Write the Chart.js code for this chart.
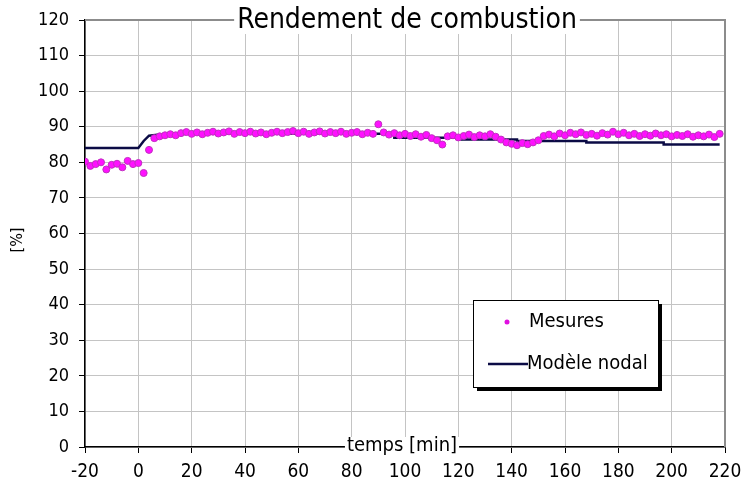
<!DOCTYPE html>
<html>
<head>
<meta charset="utf-8">
<script src="https://cdn.jsdelivr.net/npm/chart.js@4/dist/chart.umd.min.js"></script>
<style>
  html, body { margin: 0; padding: 0; background: #fff; }
</style>
</head>
<body>
<canvas id="myChart" width="742" height="487"></canvas>
<script>
// Data
const measureStart = -20;   // first sample [min]
const measureStep = 2;      // sampling interval [min]
const measureValues = [
  80.2, 79.0, 79.5, 80.0, 78.0, 79.3, 79.6, 78.6, 80.4, 79.5,
  79.8, 77.0, 83.5, 86.8, 87.3, 87.6, 87.9, 87.6, 88.2, 88.5,
  88.0, 88.4, 87.9, 88.3, 88.6, 88.1, 88.4, 88.7, 88.0, 88.5,
  88.2, 88.6, 88.1, 88.4, 87.9, 88.3, 88.6, 88.2, 88.5, 88.8,
  88.2, 88.6, 88.0, 88.4, 88.7, 88.1, 88.5, 88.2, 88.6, 88.0,
  88.3, 88.5, 87.9, 88.3, 88.0, 90.7, 88.4, 87.8, 88.2, 87.6,
  88.0, 87.4, 87.9, 87.2, 87.7, 86.8, 86.2, 85.0, 87.3, 87.6,
  87.0, 87.4, 87.8, 87.1, 87.6, 87.3, 87.9, 87.2, 86.4, 85.6,
  85.2, 84.8, 85.4, 85.1, 85.6, 86.2, 87.4, 87.8, 87.3, 88.1,
  87.6, 88.3, 87.9, 88.4, 87.7, 88.0, 87.5, 88.2, 87.8, 88.6,
  87.9, 88.3, 87.6, 88.0, 87.4, 87.9, 87.5, 88.1, 87.6, 87.9,
  87.3, 87.7, 87.4, 87.9, 87.2, 87.6, 87.3, 87.8, 87.1, 88.0
];
const modelTimes  = [-20, 0, 2, 4, 8, 20, 96, 96, 120, 120, 142, 142, 168, 168, 197, 197, 218];
const modelValues = [84, 84, 86, 87.5, 87.8, 88, 88, 86.9, 86.9, 86.4, 86.4, 86.0, 86.0, 85.6, 85.6, 85.0, 85.0];

const xTicks = [-20, 0, 20, 40, 60, 80, 100, 120, 140, 160, 180, 200, 220];
const yTicks = [0, 10, 20, 30, 40, 50, 60, 70, 80, 90, 100, 110, 120];

const titleText = 'Rendement de combustion';
const xTitle = 'temps [min]';
const yTitle = '[%]';
const seriesNames = ['Mesures', 'Modèle nodal'];

const FONT = '"DejaVu Sans Condensed", "DejaVu Sans", sans-serif';

const measurePoints = measureValues.map((v, i) => ({ x: measureStart + i * measureStep, y: v }));
const modelPoints = modelTimes.map((t, i) => ({ x: t, y: modelValues[i] }));

// titles, frame and legend drawn on top of the chart
const decorations = {
  id: 'decorations',
  afterDraw(chart) {
    const { ctx, chartArea: a } = chart;
    ctx.save();

    // grey top / right frame
    ctx.strokeStyle = '#8c8c8c';
    ctx.lineWidth = 2;
    ctx.beginPath();
    ctx.moveTo(a.left, a.top);
    ctx.lineTo(a.right, a.top);
    ctx.lineTo(a.right, a.bottom);
    ctx.stroke();

    // chart title sitting on the top frame
    ctx.font = '28px ' + FONT;
    ctx.textBaseline = 'middle';
    ctx.textAlign = 'center';
    const cx = (a.left + a.right) / 2 + 2;
    let w = ctx.measureText(titleText).width;
    ctx.fillStyle = '#fff';
    ctx.fillRect(cx - w / 2 - 3, a.top - 14, w + 6, 28);
    ctx.fillStyle = '#000';
    ctx.fillText(titleText, cx, a.top + 1);

    // x title sitting on the axis
    ctx.font = '20px ' + FONT;
    w = ctx.measureText(xTitle).width;
    const xtx = cx - 5;
    ctx.fillStyle = '#fff';
    ctx.fillRect(xtx - w / 2 - 2, a.bottom - 10, w + 4, 20);
    ctx.fillStyle = '#000';
    ctx.fillText(xTitle, xtx, a.bottom - 1);

    // y title
    ctx.save();
    ctx.translate(18, 240);
    ctx.rotate(-Math.PI / 2);
    ctx.font = '16px ' + FONT;
    ctx.fillText(yTitle, 0, 0);
    ctx.restore();

    // legend box with shadow
    const lx = 473, ly = 300, lw = 185, lh = 87;
    ctx.fillStyle = '#000';
    ctx.fillRect(lx + 4, ly + 4, lw, lh);
    ctx.fillStyle = '#fff';
    ctx.fillRect(lx, ly, lw, lh);
    ctx.strokeStyle = '#000';
    ctx.lineWidth = 1;
    ctx.strokeRect(lx + 0.5, ly + 0.5, lw, lh);

    ctx.font = '20px ' + FONT;
    ctx.textAlign = 'left';
    // measures entry
    ctx.fillStyle = '#e010e0';
    ctx.beginPath();
    ctx.arc(507, 322, 2.5, 0, Math.PI * 2);
    ctx.fill();
    ctx.fillStyle = '#000';
    ctx.fillText(seriesNames[0], 529, 322);
    // model entry
    ctx.strokeStyle = '#0b0b45';
    ctx.lineWidth = 2.5;
    ctx.beginPath();
    ctx.moveTo(488, 364);
    ctx.lineTo(528, 364);
    ctx.stroke();
    ctx.fillText(seriesNames[1], 527, 364);

    ctx.restore();
  }
};

const ctx = document.getElementById('myChart').getContext('2d');

let myChart = new Chart(ctx, {
  type: 'scatter',
  data: {
    datasets: [
      {
        label: seriesNames[0],
        data: measurePoints,
        pointStyle: 'circle',
        pointRadius: 3.5,
        backgroundColor: '#ff10ff',
        borderColor: '#c030c0',
        borderWidth: 1,
        showLine: false,
      },
      {
        label: seriesNames[1],
        data: modelPoints,
        showLine: true,
        pointRadius: 0,
        borderColor: '#0b0b45',
        borderWidth: 2.5,
        tension: 0,
      },
    ],
  },
  options: {
    responsive: false,
    animation: false,
    devicePixelRatio: 1,
    layout: { padding: { top: 20, right: 17, left: 0, bottom: 0 } },
    plugins: {
      legend: { display: false },
      tooltip: { enabled: false },
    },
    scales: {
      x: {
        type: 'linear',
        min: -20,
        max: 220,
        afterBuildTicks: (scale) => { scale.ticks = xTicks.map((v) => ({ value: v })); },
        afterFit: (scale) => {
          scale.height = 40;
          scale.paddingLeft = 0;
          scale.paddingRight = 0;
        },
        ticks: {
          color: '#000',
          font: { family: FONT, size: 19 },
          padding: 8,
          maxRotation: 0,
          autoSkip: false,
        },
        grid: { color: '#c4c4c4', lineWidth: 1, tickColor: '#000', tickLength: 6 },
        border: { color: '#000', width: 1.5 },
      },
      y: {
        min: 0,
        max: 120,
        afterBuildTicks: (scale) => { scale.ticks = yTicks.map((v) => ({ value: v })); },
        afterFit: (scale) => {
          scale.width = 85;
          scale.paddingTop = 0;
          scale.paddingBottom = 0;
        },
        ticks: {
          color: '#000',
          font: { family: FONT, size: 18 },
          padding: 10,
        },
        grid: { color: '#c4c4c4', lineWidth: 1, tickColor: '#000', tickLength: 6 },
        border: { color: '#000', width: 1.5 },
      },
    },
  },
  plugins: [decorations],
});
</script>
</body>
</html>
